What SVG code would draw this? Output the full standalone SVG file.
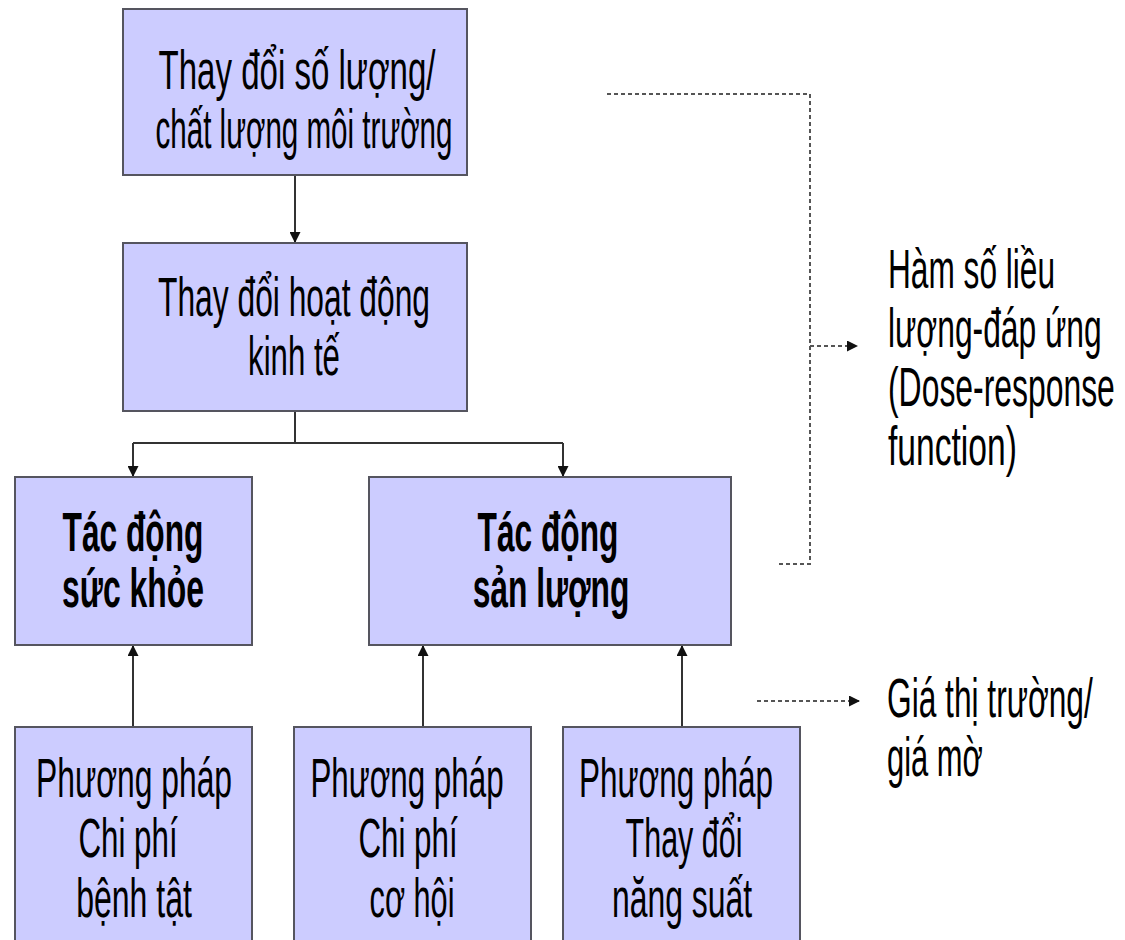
<svg xmlns="http://www.w3.org/2000/svg" width="1125" height="940" viewBox="0 0 1125 940">
  <style>
    .box { fill: #ccccff; stroke: #55555f; stroke-width: 2; }
    .lbl { font-family: "Liberation Sans", Arial, sans-serif; font-size: 55px; fill: #000; text-anchor: middle; }
    .bold { font-weight: bold; }
    .side { font-family: "Liberation Sans", Arial, sans-serif; font-size: 55px; fill: #000; text-anchor: start; }
    .solid { fill: none; stroke: #333; stroke-width: 2; }
    .dash { fill: none; stroke: #555; stroke-width: 2; stroke-dasharray: 4 3; }
  </style>
  <defs>
    <marker id="tri" viewBox="0 0 10 10" refX="10" refY="5" markerWidth="6" markerHeight="5.5" orient="auto" markerUnits="strokeWidth">
      <path d="M0,0 L10,5 L0,10 Z" fill="#111"/>
    </marker>
  </defs>
  <rect width="1125" height="940" fill="#fff"/>

  <!-- connectors -->
  <g id="connectors">
    <path class="solid" d="M295,175 V243" marker-end="url(#tri)"/>
    <path class="solid" d="M295,411 V443 M133,443 H563"/>
    <path class="solid" d="M133,443 V477" marker-end="url(#tri)"/>
    <path class="solid" d="M563,443 V477" marker-end="url(#tri)"/>
    <path class="solid" d="M133,727 V645" marker-end="url(#tri)"/>
    <path class="solid" d="M423,727 V645" marker-end="url(#tri)"/>
    <path class="solid" d="M682,727 V645" marker-end="url(#tri)"/>
    <path class="dash" d="M607,94 H810 V564 H776"/>
    <path class="dash" d="M810,346 H858" marker-end="url(#tri)"/>
    <path class="dash" d="M757,701 H860" marker-end="url(#tri)"/>
  </g>

  <!-- text is narrowed horizontally: translate to anchor, then scale x -->
  <g id="env-change">
    <rect class="box" x="123" y="9" width="344" height="166"/>
    <text class="lbl" transform="translate(297,89) scale(0.57,1)" textLength="486" lengthAdjust="spacingAndGlyphs">Thay đổi số lượng/</text>
    <text class="lbl" transform="translate(304,148) scale(0.57,1)" textLength="521" lengthAdjust="spacingAndGlyphs">chất lượng môi trường</text>
  </g>

  <g id="econ-change">
    <rect class="box" x="123" y="243" width="344" height="168"/>
    <text class="lbl" transform="translate(294,316) scale(0.57,1)" textLength="477" lengthAdjust="spacingAndGlyphs">Thay đổi hoạt động</text>
    <text class="lbl" transform="translate(294,375) scale(0.57,1)" textLength="161" lengthAdjust="spacingAndGlyphs">kinh tế</text>
  </g>

  <g id="health-impact">
    <rect class="box" x="15" y="477" width="237" height="168"/>
    <text class="lbl bold" transform="translate(133,551) scale(0.57,1)" textLength="247" lengthAdjust="spacingAndGlyphs">Tác động</text>
    <text class="lbl bold" transform="translate(133,607) scale(0.57,1)" textLength="249" lengthAdjust="spacingAndGlyphs">sức khỏe</text>
  </g>

  <g id="output-impact">
    <rect class="box" x="369" y="477" width="362" height="168"/>
    <text class="lbl bold" transform="translate(548,551) scale(0.57,1)" textLength="247" lengthAdjust="spacingAndGlyphs">Tác động</text>
    <text class="lbl bold" transform="translate(551,607) scale(0.57,1)" textLength="275" lengthAdjust="spacingAndGlyphs">sản lượng</text>
  </g>

  <g id="cost-of-illness">
    <rect class="box" x="15" y="727" width="237" height="225"/>
    <text class="lbl" transform="translate(134,797) scale(0.57,1)" textLength="344" lengthAdjust="spacingAndGlyphs">Phương pháp</text>
    <text class="lbl" transform="translate(128,857) scale(0.57,1)" textLength="174" lengthAdjust="spacingAndGlyphs">Chi phí</text>
    <text class="lbl" transform="translate(134,917) scale(0.57,1)" textLength="203" lengthAdjust="spacingAndGlyphs">bệnh tật</text>
  </g>

  <g id="opportunity-cost">
    <rect class="box" x="294" y="727" width="237" height="225"/>
    <text class="lbl" transform="translate(407,797) scale(0.57,1)" textLength="339" lengthAdjust="spacingAndGlyphs">Phương pháp</text>
    <text class="lbl" transform="translate(408,857) scale(0.57,1)" textLength="174" lengthAdjust="spacingAndGlyphs">Chi phí</text>
    <text class="lbl" transform="translate(412,917) scale(0.57,1)" textLength="149" lengthAdjust="spacingAndGlyphs">cơ hội</text>
  </g>

  <g id="productivity-change">
    <rect class="box" x="563" y="727" width="237" height="225"/>
    <text class="lbl" transform="translate(676,797) scale(0.57,1)" textLength="340" lengthAdjust="spacingAndGlyphs">Phương pháp</text>
    <text class="lbl" transform="translate(684,857) scale(0.57,1)" textLength="205" lengthAdjust="spacingAndGlyphs">Thay đổi</text>
    <text class="lbl" transform="translate(682,917) scale(0.57,1)" textLength="246" lengthAdjust="spacingAndGlyphs">năng suất</text>
  </g>

  <g id="dose-response">
    <text class="side" transform="translate(888,288) scale(0.57,1)" textLength="293" lengthAdjust="spacingAndGlyphs">Hàm số liều</text>
    <text class="side" transform="translate(888,347) scale(0.57,1)" textLength="375" lengthAdjust="spacingAndGlyphs">lượng-đáp ứng</text>
    <text class="side" transform="translate(888,406) scale(0.57,1)" textLength="398" lengthAdjust="spacingAndGlyphs">(Dose-response</text>
    <text class="side" transform="translate(888,465) scale(0.57,1)" textLength="226" lengthAdjust="spacingAndGlyphs">function)</text>
  </g>

  <g id="market-price">
    <text class="side" transform="translate(887,717) scale(0.57,1)" textLength="361" lengthAdjust="spacingAndGlyphs">Giá thị trường/</text>
    <text class="side" transform="translate(887,776) scale(0.57,1)" textLength="168" lengthAdjust="spacingAndGlyphs">giá mờ</text>
  </g>
</svg>
